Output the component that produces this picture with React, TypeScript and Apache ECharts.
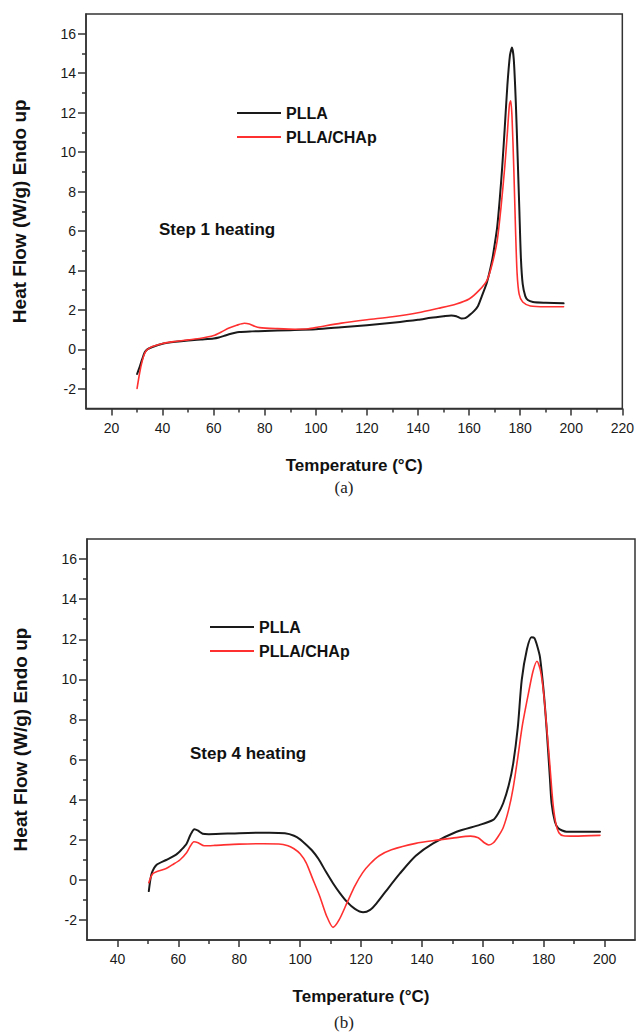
import React, { useEffect, useRef } from 'react';
import * as echarts from 'echarts';

const seriesNames = ['PLLA', 'PLLA/CHAp'];

// Step 1 heating (a)
const step1PLLA: [number, number][] = [
  [30, -1.25], [31, -0.9], [32, -0.5], [33, -0.15], [34, 0.0], [36, 0.12], [40, 0.28], [45, 0.38],
  [50, 0.45], [55, 0.5], [60, 0.55], [62, 0.6], [64, 0.68], [66, 0.76], [68, 0.83], [70, 0.88],
  [75, 0.91], [80, 0.93], [90, 0.97], [100, 1.02], [110, 1.12], [120, 1.22], [130, 1.35], [140, 1.5],
  [145, 1.6], [150, 1.68], [153, 1.72], [155, 1.68], [157, 1.56], [158.5, 1.58], [160, 1.72],
  [162, 1.95], [163.5, 2.2], [165, 2.7], [167, 3.4], [169, 4.5], [170, 5.3], [171, 6.2], [172, 7.6],
  [173, 9.3], [174, 11.3], [175, 13.4], [176, 14.9], [176.8, 15.3], [177.5, 14.7], [178.3, 12.5],
  [179, 9.8], [179.7, 7.0], [180.3, 4.6], [181, 3.3], [182, 2.7], [183, 2.5], [185, 2.4], [190, 2.36],
  [197, 2.33],
];
const step1Composite: [number, number][] = [
  [30, -1.98], [31, -1.2], [32, -0.6], [33, -0.2], [34, -0.02], [36, 0.14], [40, 0.3], [45, 0.4],
  [50, 0.48], [55, 0.56], [60, 0.7], [63, 0.88], [66, 1.08], [69, 1.22], [72, 1.32], [74, 1.28],
  [76, 1.17], [78, 1.1], [85, 1.05], [92, 1.02], [97, 1.04], [101, 1.13], [110, 1.33], [120, 1.5],
  [130, 1.65], [140, 1.85], [148, 2.08], [155, 2.3], [160, 2.55], [164, 3.0], [167, 3.5], [169, 4.3],
  [171, 5.5], [172.5, 7.2], [174, 9.3], [175, 11.0], [175.8, 12.4], [176.3, 12.6], [176.8, 11.8],
  [177.5, 9.2], [178.2, 6.0], [178.8, 3.85], [179.6, 2.8], [181, 2.4], [184, 2.2], [190, 2.16],
  [197, 2.16],
];

// Step 4 heating (b)
const step4PLLA: [number, number][] = [
  [50.3, -0.56], [50.8, 0.0], [51.3, 0.35], [52.8, 0.74], [56, 0.99], [59.4, 1.27], [61, 1.5],
  [62.7, 1.8], [64, 2.25], [65.3, 2.52], [66.5, 2.45], [68, 2.3], [70, 2.28], [80, 2.33], [90, 2.35],
  [95, 2.32], [98, 2.2], [100, 2.02], [102, 1.75], [104, 1.45], [106, 1.05], [108.5, 0.4],
  [110.8, -0.17], [113, -0.65], [115.4, -1.1], [118, -1.45], [120.7, -1.62], [123, -1.5],
  [125.1, -1.17], [128, -0.6], [132.8, 0.32], [138, 1.2], [143.7, 1.82], [151.4, 2.4], [159, 2.74],
  [163.4, 2.99], [165, 3.3], [166.7, 3.82], [168.5, 4.7], [170, 5.81], [171.5, 7.6], [172.8, 9.97],
  [174.5, 11.5], [176, 12.1], [177, 12.05], [178, 11.6], [178.8, 11.1], [180, 9.4], [181, 7.47],
  [182, 5.2], [182.6, 3.82], [183.7, 2.9], [184.8, 2.57], [187.5, 2.4], [198.5, 2.4],
];
const step4Composite: [number, number][] = [
  [50.3, -0.14], [51, 0.15], [51.7, 0.32], [53, 0.42], [56, 0.57], [58, 0.75], [60.5, 0.99],
  [62.7, 1.35], [64, 1.7], [65.1, 1.9], [66.5, 1.85], [68.5, 1.7], [72, 1.72], [80, 1.78], [88, 1.8],
  [93, 1.79], [96, 1.7], [98, 1.55], [100, 1.3], [102, 0.85], [104, 0.1], [106.5, -0.84],
  [108.7, -1.8], [110.8, -2.37], [112.8, -2.0], [115.4, -1.15], [118, -0.3], [120.5, 0.35],
  [123, 0.8], [126, 1.2], [130, 1.5], [138, 1.82], [145, 1.98], [150, 2.08], [156, 2.18],
  [158.5, 2.1], [160.5, 1.85], [162, 1.74], [163.5, 1.85], [165, 2.15], [166.7, 2.6], [168.5, 3.5],
  [170, 4.6], [171.5, 6.1], [173, 7.7], [175, 9.3], [176.5, 10.4], [177.8, 10.9], [179, 10.4],
  [180, 9.3], [181, 7.6], [182, 5.8], [183, 3.9], [184, 2.8], [185, 2.35], [186.5, 2.2], [190, 2.18],
  [198.5, 2.22],
];

// tick values
const xMajorA = [20, 40, 60, 80, 100, 120, 140, 160, 180, 200, 220];
const xMinorA = [30, 50, 70, 90, 110, 130, 150, 170, 190, 210];
const xMajorB = [40, 60, 80, 100, 120, 140, 160, 180, 200];
const xMinorB = [50, 70, 90, 110, 130, 150, 170, 190];
const yMajor = [-2, 0, 2, 4, 6, 8, 10, 12, 14, 16];
const yMinor = [-1, 1, 3, 5, 7, 9, 11, 13, 15];

const FONT = '"Liberation Sans", Arial, sans-serif';
const AXIS_COLOR = '#333';
const BLACK = '#1a1a1a';
const RED = '#ff3030';

function mainX(gridIndex: number, min: number, max: number, major: number[]) {
  return {
    type: 'value', gridIndex, min, max, position: 'bottom',
    name: 'Temperature (°C)', nameLocation: 'middle', nameGap: 48,
    nameTextStyle: { fontFamily: FONT, fontSize: 17, fontWeight: 'bold', color: '#111' },
    axisLine: { show: true, onZero: false, lineStyle: { color: AXIS_COLOR, width: 1.5 } },
    axisTick: { show: true, inside: false, length: 7, customValues: major, lineStyle: { color: AXIS_COLOR, width: 1.5 } },
    axisLabel: { show: true, customValues: major, margin: 12, fontFamily: FONT, fontSize: 14, color: '#1a1a1a' },
    splitLine: { show: false },
  };
}
function minorX(gridIndex: number, min: number, max: number, minor: number[]) {
  return {
    type: 'value', gridIndex, min, max, position: 'bottom',
    axisLine: { show: false, onZero: false },
    axisTick: { show: true, inside: false, length: 4, customValues: minor, lineStyle: { color: AXIS_COLOR, width: 1.5 } },
    axisLabel: { show: false },
    splitLine: { show: false },
  };
}
function mainY(gridIndex: number) {
  return {
    type: 'value', gridIndex, min: -3, max: 17, position: 'left',
    name: 'Heat Flow (W/g) Endo up', nameLocation: 'middle', nameGap: 57,
    nameTextStyle: { fontFamily: FONT, fontSize: 19, fontWeight: 'bold', color: '#111' },
    axisLine: { show: true, onZero: false, lineStyle: { color: AXIS_COLOR, width: 1.5 } },
    axisTick: { show: true, inside: false, length: 8, customValues: yMajor, lineStyle: { color: AXIS_COLOR, width: 1.5 } },
    axisLabel: { show: true, customValues: yMajor, margin: 10, fontFamily: FONT, fontSize: 14, color: '#1a1a1a' },
    splitLine: { show: false },
  };
}
function minorY(gridIndex: number) {
  return {
    type: 'value', gridIndex, min: -3, max: 17, position: 'left',
    axisLine: { show: false, onZero: false },
    axisTick: { show: true, inside: false, length: 4, customValues: yMinor, lineStyle: { color: AXIS_COLOR, width: 1.5 } },
    axisLabel: { show: false },
    splitLine: { show: false },
  };
}

function line(name: string, data: [number, number][], axis: number, color: string, width: number) {
  return {
    type: 'line', name, data, xAxisIndex: axis, yAxisIndex: axis,
    symbol: 'none', showSymbol: false, smooth: 0.25,
    lineStyle: { color, width, join: 'round', cap: 'round' }, itemStyle: { color },
    z: color === RED ? 3 : 2,
  };
}

const legendText = { fontFamily: FONT, fontSize: 16, fontWeight: 'bold', color: '#111', lineHeight: 16 };

function legendAt(left: number, top: number) {
  return {
    data: seriesNames.map((n) => ({ name: n, icon: 'rect' })),
    orient: 'vertical', left, top, itemWidth: 44, itemHeight: 2,
    itemGap: 8, textStyle: legendText, selectedMode: false, padding: 0,
  };
}

export default function App() {
  const ref = useRef<HTMLDivElement>(null);
  useEffect(() => {
    if (!ref.current) return;
    const chart = echarts.init(ref.current, null, { renderer: 'svg' });
    chart.setOption({
      animation: false,
      backgroundColor: '#fff',
      grid: [
        { left: 86, top: 14, width: 540, height: 394.5, show: true, borderColor: AXIS_COLOR, borderWidth: 1.5, backgroundColor: 'transparent' },
        { left: 87, top: 539, width: 548, height: 401, show: true, borderColor: AXIS_COLOR, borderWidth: 1.5, backgroundColor: 'transparent' },
      ],
      xAxis: [
        mainX(0, 10, 220, xMajorA),
        minorX(0, 10, 220, xMinorA),
        mainX(1, 30, 210, xMajorB),
        minorX(1, 30, 210, xMinorB),
      ],
      yAxis: [mainY(0), minorY(0), mainY(1), minorY(1)],
      legend: [legendAt(237, 105), legendAt(210, 619)],
      series: [
        line(seriesNames[0], step1PLLA, 0, BLACK, 2),
        line(seriesNames[1], step1Composite, 0, RED, 1.6),
        line(seriesNames[0], step4PLLA, 2, BLACK, 2),
        line(seriesNames[1], step4Composite, 2, RED, 1.6),
      ],
      graphic: [
        { type: 'text', x: 159, y: 229, style: { text: 'Step 1 heating', fontFamily: FONT, fontSize: 17, fontWeight: 'bold', fill: '#111', align: 'left', verticalAlign: 'middle' } },
        { type: 'text', x: 190, y: 753, style: { text: 'Step 4 heating', fontFamily: FONT, fontSize: 17, fontWeight: 'bold', fill: '#111', align: 'left', verticalAlign: 'middle' } },
        { type: 'text', x: 344, y: 487, style: { text: '(a)', fontFamily: '"Liberation Serif", "Times New Roman", serif', fontSize: 17, fill: '#222', align: 'center', verticalAlign: 'middle' } },
        { type: 'text', x: 344, y: 1022, style: { text: '(b)', fontFamily: '"Liberation Serif", "Times New Roman", serif', fontSize: 17, fill: '#222', align: 'center', verticalAlign: 'middle' } },
      ],
    });
    return () => chart.dispose();
  }, []);
  return <div ref={ref} style={{ position: 'absolute', left: 0, top: 0, width: 637, height: 1033 }} />;
}
